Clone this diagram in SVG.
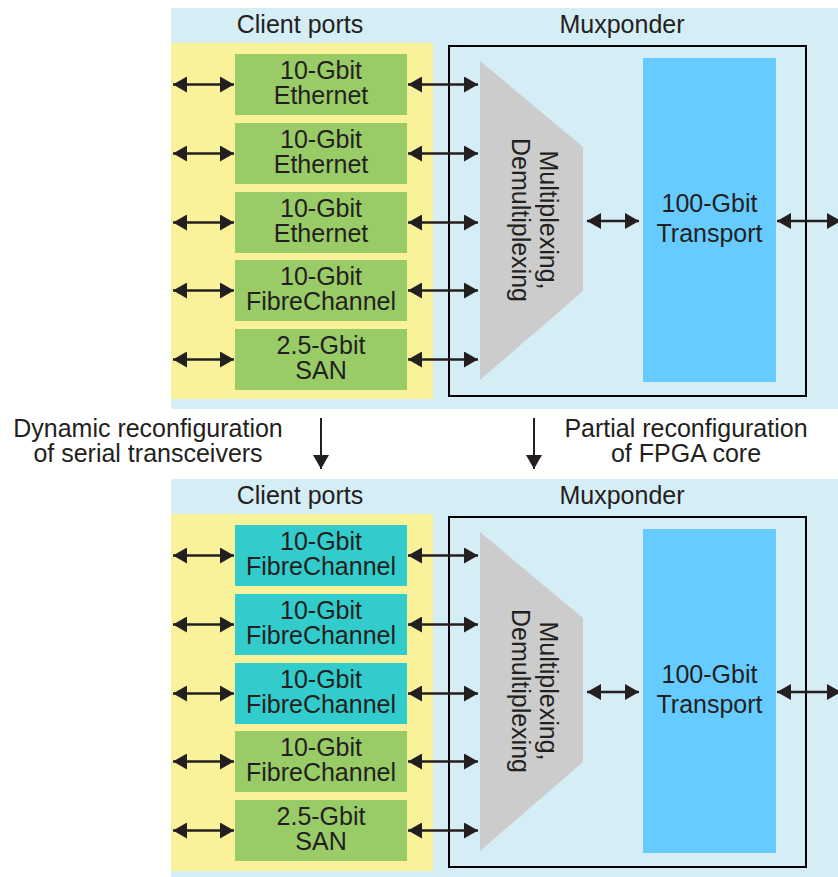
<svg xmlns="http://www.w3.org/2000/svg" width="838" height="877" viewBox="0 0 838 877">
<style>
text{font-family:"Liberation Sans",Arial,sans-serif;font-size:25px;fill:#231f20;text-anchor:middle}
.bg{fill:#d5edf5}
.yl{fill:#f9f29b}
.gr{fill:#99cc66}
.cy{fill:#33cccc}
.mux{fill:none;stroke:#000;stroke-width:2}
.trap{fill:#cccccc}
.tr{fill:#66ccff}
.ar{stroke:#231f20;stroke-width:2.5;fill:none;marker-start:url(#ah);marker-end:url(#ah)}
.dn{stroke:#231f20;stroke-width:2;fill:none;marker-end:url(#ah)}
</style>
<defs>
<marker id="ah" markerUnits="userSpaceOnUse" markerWidth="14" markerHeight="16" refX="14" refY="8" orient="auto-start-reverse" viewBox="0 0 14 16">
<path d="M0,0 L14,8 L0,16 z" fill="#231f20"/>
</marker>
</defs>

<!-- Top panel -->
<g id="top-panel">
<rect class="bg" x="171" y="8" width="667" height="401"/>
<rect class="yl" x="171" y="43" width="262" height="356"/>
<text x="300" y="33">Client ports</text>
<text x="622" y="33">Muxponder</text>
<rect class="mux" x="449" y="46" width="357" height="350"/>
</g>
<g id="t-p1"><rect class="gr" x="235" y="54" width="172" height="61"/><text x="321" y="79">10-Gbit</text><text x="321" y="104">Ethernet</text></g>
<g id="t-p2"><rect class="gr" x="235" y="123" width="172" height="61"/><text x="321" y="148">10-Gbit</text><text x="321" y="173">Ethernet</text></g>
<g id="t-p3"><rect class="gr" x="235" y="192" width="172" height="61"/><text x="321" y="217">10-Gbit</text><text x="321" y="242">Ethernet</text></g>
<g id="t-p4"><rect class="gr" x="235" y="260" width="172" height="61"/><text x="321" y="285">10-Gbit</text><text x="321" y="310">FibreChannel</text></g>
<g id="t-p5"><rect class="gr" x="235" y="329" width="172" height="61"/><text x="321" y="354">2.5-Gbit</text><text x="321" y="379">SAN</text></g>
<g id="t-mux"><polygon class="trap" points="480,61 583,147 583,291 480,380"/>
<g transform="translate(531,220) rotate(90)"><text x="0" y="-9">Multiplexing,</text><text x="0" y="19">Demultiplexing</text></g></g>
<g id="t-transport"><rect class="tr" x="643" y="58" width="133" height="324"/><text x="709.5" y="212">100-Gbit</text><text x="709.5" y="242">Transport</text></g>

<!-- Bottom panel -->
<g id="bottom-panel">
<rect class="bg" x="171" y="479" width="667" height="398"/>
<rect class="yl" x="171" y="514" width="262" height="357"/>
<text x="300" y="504">Client ports</text>
<text x="622" y="504">Muxponder</text>
<rect class="mux" x="449" y="517" width="357" height="350"/>
</g>
<g id="b-p1"><rect class="cy" x="235" y="525" width="172" height="61"/><text x="321" y="550">10-Gbit</text><text x="321" y="575">FibreChannel</text></g>
<g id="b-p2"><rect class="cy" x="235" y="594" width="172" height="61"/><text x="321" y="619">10-Gbit</text><text x="321" y="644">FibreChannel</text></g>
<g id="b-p3"><rect class="cy" x="235" y="663" width="172" height="61"/><text x="321" y="688">10-Gbit</text><text x="321" y="713">FibreChannel</text></g>
<g id="b-p4"><rect class="gr" x="235" y="731" width="172" height="61"/><text x="321" y="756">10-Gbit</text><text x="321" y="781">FibreChannel</text></g>
<g id="b-p5"><rect class="gr" x="235" y="800" width="172" height="61"/><text x="321" y="825">2.5-Gbit</text><text x="321" y="850">SAN</text></g>
<g id="b-mux"><polygon class="trap" points="480,532 583,618 583,762 480,851"/>
<g transform="translate(531,691) rotate(90)"><text x="0" y="-9">Multiplexing,</text><text x="0" y="19">Demultiplexing</text></g></g>
<g id="b-transport"><rect class="tr" x="643" y="529" width="133" height="324"/><text x="709.5" y="683">100-Gbit</text><text x="709.5" y="713">Transport</text></g>

<!-- Middle labels -->
<g id="label-left"><text x="148" y="437">Dynamic reconfiguration</text><text x="148" y="462">of serial transceivers</text></g>
<g id="label-right"><text x="686" y="437">Partial reconfiguration</text><text x="686" y="462">of FPGA core</text></g>

<!-- Connectors -->
<g id="connectors">
<line class="ar" x1="173" y1="84.5" x2="234" y2="84.5"/>
<line class="ar" x1="173" y1="153.5" x2="234" y2="153.5"/>
<line class="ar" x1="173" y1="222.5" x2="234" y2="222.5"/>
<line class="ar" x1="173" y1="290.5" x2="234" y2="290.5"/>
<line class="ar" x1="173" y1="359.5" x2="234" y2="359.5"/>
<line class="ar" x1="408" y1="84.5" x2="478" y2="84.5"/>
<line class="ar" x1="408" y1="153.5" x2="478" y2="153.5"/>
<line class="ar" x1="408" y1="222.5" x2="478" y2="222.5"/>
<line class="ar" x1="408" y1="290.5" x2="478" y2="290.5"/>
<line class="ar" x1="408" y1="359.5" x2="478" y2="359.5"/>
<line class="ar" x1="587" y1="221" x2="639" y2="221"/>
<line class="ar" x1="777" y1="221" x2="841" y2="221"/>

<line class="ar" x1="173" y1="555.5" x2="234" y2="555.5"/>
<line class="ar" x1="173" y1="624.5" x2="234" y2="624.5"/>
<line class="ar" x1="173" y1="693.5" x2="234" y2="693.5"/>
<line class="ar" x1="173" y1="761.5" x2="234" y2="761.5"/>
<line class="ar" x1="173" y1="830.5" x2="234" y2="830.5"/>
<line class="ar" x1="408" y1="555.5" x2="478" y2="555.5"/>
<line class="ar" x1="408" y1="624.5" x2="478" y2="624.5"/>
<line class="ar" x1="408" y1="693.5" x2="478" y2="693.5"/>
<line class="ar" x1="408" y1="761.5" x2="478" y2="761.5"/>
<line class="ar" x1="408" y1="830.5" x2="478" y2="830.5"/>
<line class="ar" x1="587" y1="692" x2="639" y2="692"/>
<line class="ar" x1="777" y1="692" x2="841" y2="692"/>

<line class="dn" x1="321" y1="418" x2="321" y2="469"/>
<line class="dn" x1="534" y1="418" x2="534" y2="469"/>
</g>
</svg>
